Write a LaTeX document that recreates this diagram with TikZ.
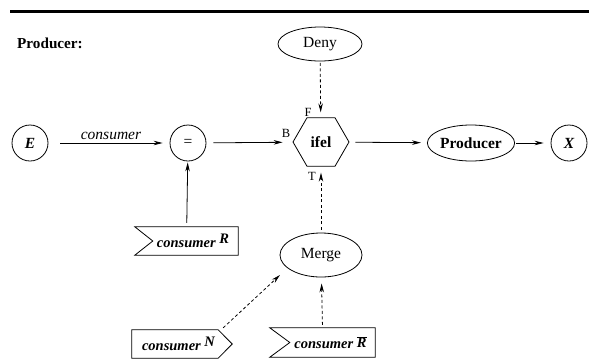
\documentclass[tikz,border=0pt]{standalone}
\usepackage{fontspec}
\setmainfont{Liberation Serif}
\usetikzlibrary{arrows.meta,shapes.geometric}
\begin{document}
\begin{tikzpicture}[x=1pt,y=-1pt,
  every node/.style={font=\fontsize{15.5}{18}\selectfont},
  lw/.style={line width=0.8pt},
  circ/.style={lw,draw,circle,minimum size=36pt,inner sep=0pt},
  ell/.style={lw,draw,ellipse,inner sep=0pt},
  arr/.style={lw,-{Stealth[length=9pt,width=4.5pt]}},
  darr/.style={arr,dash pattern=on 3pt off 2.5pt},
  lbl/.style={font=\fontsize{12.5}{14}\selectfont,inner sep=0pt},
  sigbox/.style={minimum height=28pt,inner sep=0pt,font=\fontsize{14.5}{17}\selectfont\bfseries\itshape},
]
\useasboundingbox (0,0) rectangle (589,360);
\draw[line width=2.6pt] (10,11.5) -- (589,11.5);
\node[font=\fontsize{15.2}{18}\selectfont\bfseries, anchor=west, inner sep=0pt] (title) at (17,43) {Producer:};

\node[ell, minimum width=84pt, minimum height=34pt] (deny) at (320,44) {Deny};
\node[lw, draw, regular polygon, regular polygon sides=6, minimum size=56pt, inner sep=0pt,
      font=\fontsize{15.5}{18}\selectfont\bfseries] (ifel) at (321,142) {ifel};
\node[circ, font=\fontsize{15.5}{18}\selectfont\bfseries\itshape] (E) at (30,143) {E};
\node[circ] (eq) at (188,143) {=};
\node[ell, minimum width=77pt, minimum height=36pt, font=\fontsize{15.5}{18}\selectfont\bfseries] (prod) at (471,143) {Producer};
\node[circ, font=\fontsize{15.5}{18}\selectfont\bfseries\itshape] (X) at (569,143) {X};
\node[ell, minimum width=82pt, minimum height=44pt] (merge) at (321,255) {Merge};

\node[lbl] (F) at (308,112) {F};
\node[lbl] (B) at (286,133) {B};
\node[lbl] (T) at (312,176) {T};

\node[sigbox, minimum width=103pt] (cR) at (186.5,241) {\hspace*{13pt}consumer \raisebox{4pt}{R}};
\node[sigbox, minimum width=86pt] (cN) at (175,344) {\hspace*{7pt}consumer \raisebox{4pt}{N}};
\node[sigbox, minimum width=105pt, minimum height=29pt] (cRb) at (322.5,342.5) {\hspace*{16pt}consumer \raisebox{1pt}{$\overline{\mbox{\bfseries\itshape R}}$}};

\draw[lw] (cR.north west) -- (cR.north east) -- (cR.south east) -- (cR.south west) -- ([xshift=18pt]cR.west) -- cycle;
\draw[lw] (cN.north west) -- (cN.north east) -- ([xshift=14pt]cN.east) -- (cN.south east) -- (cN.south west) -- cycle;
\draw[lw] (cRb.north west) -- (cRb.north east) -- (cRb.south east) -- (cRb.south west) -- ([xshift=20pt]cRb.west) -- cycle;

\draw[arr, shorten <=12pt, shorten >=7pt] (E) -- node[above, inner sep=3pt, font=\fontsize{15.5}{18}\selectfont\itshape, xshift=2pt] (lcons) {consumer} (eq);
\draw[arr, shorten <=7pt, shorten >=10pt] (eq) -- (ifel);
\draw[arr, shorten <=6pt, shorten >=6pt] (ifel) -- (prod);
\draw[arr, shorten <=1pt, shorten >=7pt] (prod) -- (X);
\draw[darr, shorten <=1.5pt, shorten >=5pt] (deny) -- (ifel);
\draw[darr, shorten <=3pt, shorten >=6pt] (merge) -- (ifel);
\draw[arr, shorten <=4pt, shorten >=1pt] (cR) -- (eq);
\draw[darr, shorten <=3pt, shorten >=6pt] (cRb.north) -- (merge);
\draw[darr] ([shift={(5,-2)}]cN.north east) -- ([shift={(-41,20)}]merge.center);
\end{tikzpicture}
\end{document}
